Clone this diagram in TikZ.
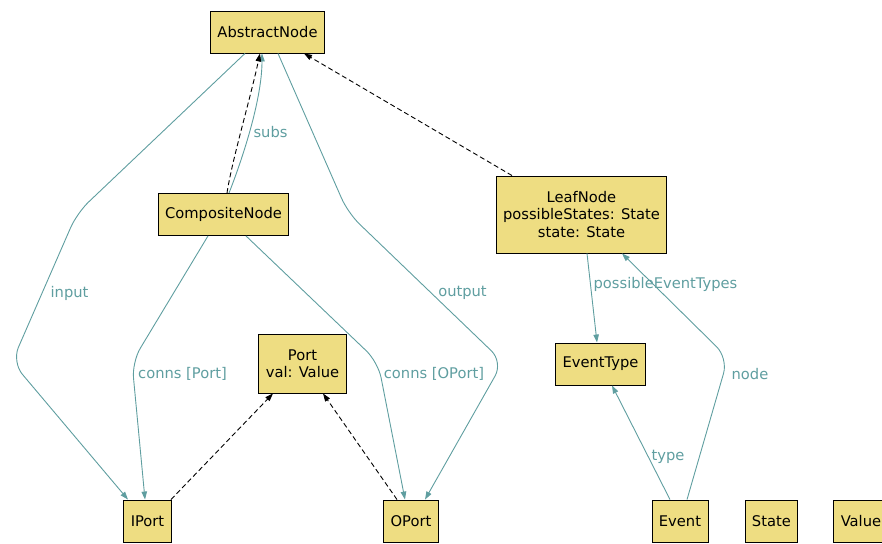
\documentclass[tikz,border=0pt]{standalone}
\usepackage{fontspec}
\setmainfont{DejaVu Sans}
\usetikzlibrary{arrows.meta, positioning}
\definecolor{gvkhaki}{HTML}{EEDD82}
\definecolor{gvteal}{HTML}{5F9EA0}
\tikzstyle{class}=[rectangle, draw=black, fill=gvkhaki, line width=0.9pt, inner xsep=7pt, minimum height=42pt, align=center, font=\fontsize{14.7}{17.5}\selectfont]
\tikzstyle{assoc}=[draw=gvteal, line width=0.9pt, ->, rounded corners=16pt]
\tikzstyle{inherit}=[draw=black, line width=0.9pt, dash pattern=on 5pt off 3pt, ->]
\tikzstyle{role}=[text=gvteal, inner sep=0pt, font=\fontsize{14.7}{17.5}\selectfont]

\begin{document}
\begin{tikzpicture}[x=1pt, y=-1pt, >={Triangle[length=8pt,width=5.5pt]}]
      \useasboundingbox (0,0) rectangle (882,543);
      \node[class] (abs) at (267.5,32) {AbstractNode};
      \node[class] (comp) at (223.5,214.5) {CompositeNode};
      \node[class, minimum height=77pt] (leaf) at (581.5,214.5) {LeafNode\\possibleStates: State\\state: State};
      \node[class, minimum height=59pt] (port) at (302.5,363.5) {Port\\val: Value};
      \node[class] (evtype) at (600.5,364) {EventType};
      \node[class] (iport) at (147.5,521) {IPort};
      \node[class] (oport) at (411,521) {OPort};
      \node[class] (event) at (680,521) {Event};
      \node[class] (state) [right=36pt of event] {State};
      \node[class] (value) [right=35pt of state] {Value};

      % associations
      \draw[assoc] ([xshift=-22.5pt]abs.south) -- (77,213) -- (12,362) -- ([xshift=-19.5pt]iport.north);
      \draw[assoc] ([xshift=10.5pt]abs.south) -- (348,213) -- (503,362) -- ([xshift=14pt]oport.north);
      \draw[assoc] ([xshift=5.5pt]comp.north) .. controls (242,160) and (262,100) .. ([xshift=-5.5pt]abs.south);
      \draw[assoc] ([xshift=-15.5pt]comp.south) -- (132,362) -- ([xshift=-2.5pt]iport.north);
      \draw[assoc] ([xshift=22.5pt]comp.south) -- (378,362) -- ([xshift=-6pt]oport.north);
      \draw[assoc] ([xshift=5.5pt]leaf.south) -- ([xshift=-3.5pt]evtype.north);
      \draw[assoc] ([xshift=7pt]event.north) -- (728,358) -- ([xshift=40.5pt]leaf.south);
      \draw[assoc] ([xshift=-10pt]event.north) -- ([xshift=11.5pt]evtype.south);

      % inheritance
      \draw[inherit] ([xshift=3.5pt]comp.north) .. controls (232,160) and (250,100) .. ([xshift=-7.5pt]abs.south);
      \draw[inherit] ([xshift=-69.5pt]leaf.north) -- ([xshift=36.5pt]abs.south);
      \draw[inherit] ([xshift=23.5pt]iport.north) -- ([xshift=-29.5pt]port.south);
      \draw[inherit] ([xshift=-14pt]oport.north) -- ([xshift=20.5pt]port.south);

      % role names
      \node[role] (lInput) at (69.5,293) {input};
      \node[role] (lOutput) at (462.5,293) {output};
      \node[role] (lSubs) at (270.5,132) {subs};
      \node[role] (lConnsP) at (182.5,374) {conns [Port]};
      \node[role] (lConnsO) at (434,374) {conns [OPort]};
      \node[role] (lPossible) at (665.5,284) {possibleEventTypes};
      \node[role] (lNode) at (750,374) {node};
      \node[role] (lType) at (668,457) {type};
\end{tikzpicture}
\end{document}
